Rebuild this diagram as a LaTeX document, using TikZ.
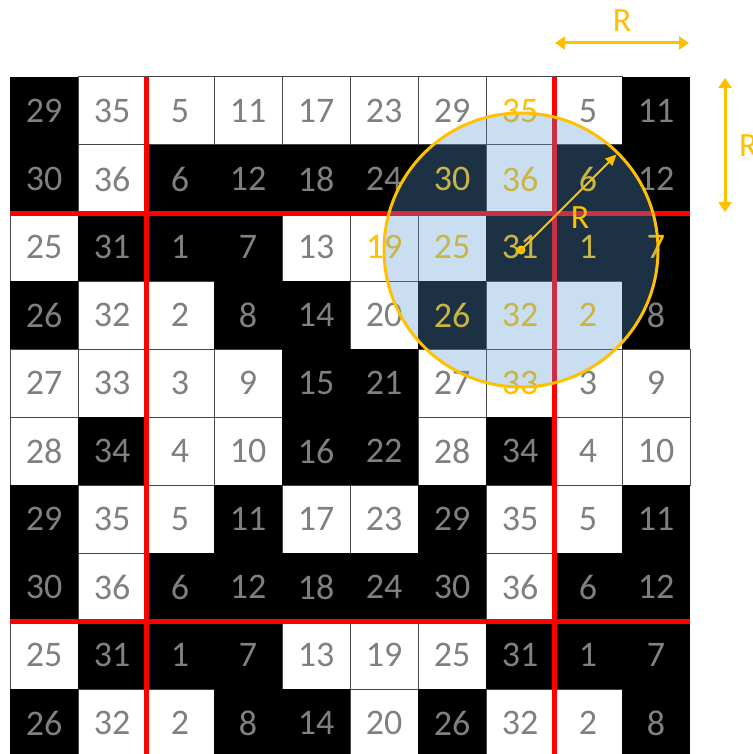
\documentclass[tikz,border=0pt]{standalone}
\usepackage{fontspec}
\setmainfont{Carlito}
\usetikzlibrary{arrows.meta,calc}
\definecolor{numgray}{RGB}{128,128,128}
\definecolor{gold}{RGB}{255,192,0}
\definecolor{overlayblue}{RGB}{91,155,213}
\definecolor{gridline}{RGB}{70,70,70}
\definecolor{redline}{RGB}{255,0,0}
\begin{document}
\begin{tikzpicture}[x=1pt,y=-1pt,
  cellbox/.style={minimum size=68pt,inner sep=0pt,outer sep=0pt,line width=1pt,
    font=\fontsize{36}{36}\selectfont},
  redrule/.style={redline,line width=5pt},
  goldarrow/.style={gold,line width=3pt,{Triangle[length=10pt,width=13pt]}-{Triangle[length=10pt,width=13pt]}},
  radarrow/.style={gold,line width=2pt,-{Triangle[length=11pt,width=10pt]}},
  rlabel/.style={gold,font=\fontsize{34}{34}\selectfont,inner sep=0pt}]
\clip (0,0) rectangle (752,754);
\fill[white] (0,0) rectangle (752,754);
% cells
\foreach \rowpat [count=\r from 0] in {
  {1,0,0,0,0,0,0,0,0,1},
  {1,0,1,1,1,1,1,0,1,1},
  {0,1,1,1,0,0,0,1,1,1},
  {1,0,0,1,1,0,1,0,0,1},
  {0,0,0,0,1,1,0,0,0,0},
  {0,1,0,0,1,1,0,1,0,0},
  {1,0,0,1,0,0,1,0,0,1},
  {1,0,1,1,1,1,1,0,1,1},
  {0,1,1,1,0,0,0,1,1,1},
  {1,0,0,1,1,0,1,0,0,1}} {
  \foreach \b [count=\c from 0] in \rowpat {
    \pgfmathtruncatemacro\num{6*mod(\c+4,6)+mod(\r+4,6)+1}
    \pgfmathtruncatemacro\dist{abs(\c-7)+abs(\r-2)}
    \ifnum\dist<3 \def\tc{gold}\else\def\tc{numgray}\fi
    \ifnum\b=1 \def\fc{black}\def\dc{none}\else\def\fc{white}\def\dc{gridline}\fi
    \node[cellbox,fill=\fc,draw=\dc,text=\tc] (c-\r-\c) at (44+68*\c,111+68*\r) {\num};
  }
}
% red partition lines
\draw[redrule] (c-0-2.north west) -- (c-9-2.south west);
\draw[redrule] (c-0-8.north west) -- (c-9-8.south west);
\draw[redrule] (c-2-0.north west) -- (c-2-9.north east);
\draw[redrule] (c-8-0.north west) -- (c-8-9.north east);
% neighbourhood circle
\coordinate (ctr) at (521,250);
\fill[overlayblue,fill opacity=0.32] (ctr) circle (137);
\draw[gold,line width=3pt] (ctr) circle (137);
\coordinate (rtip) at ($(ctr)+(-45:135)$);
\draw[radarrow] (ctr) -- (rtip);
\fill[gold] (ctr) circle (4.5);
\node[rlabel] (rmid) at (580,218) {R};
% dimension arrows
\coordinate (ha) at (555,43);
\coordinate (hb) at (689,43);
\draw[goldarrow] (ha) -- (hb);
\node[rlabel] (rtop) at (622,21) {R};
\coordinate (va) at (725,78);
\coordinate (vb) at (725,212);
\draw[goldarrow] (va) -- (vb);
\node[rlabel,anchor=west] (rright) at (739,146) {R};
\end{tikzpicture}
\end{document}
